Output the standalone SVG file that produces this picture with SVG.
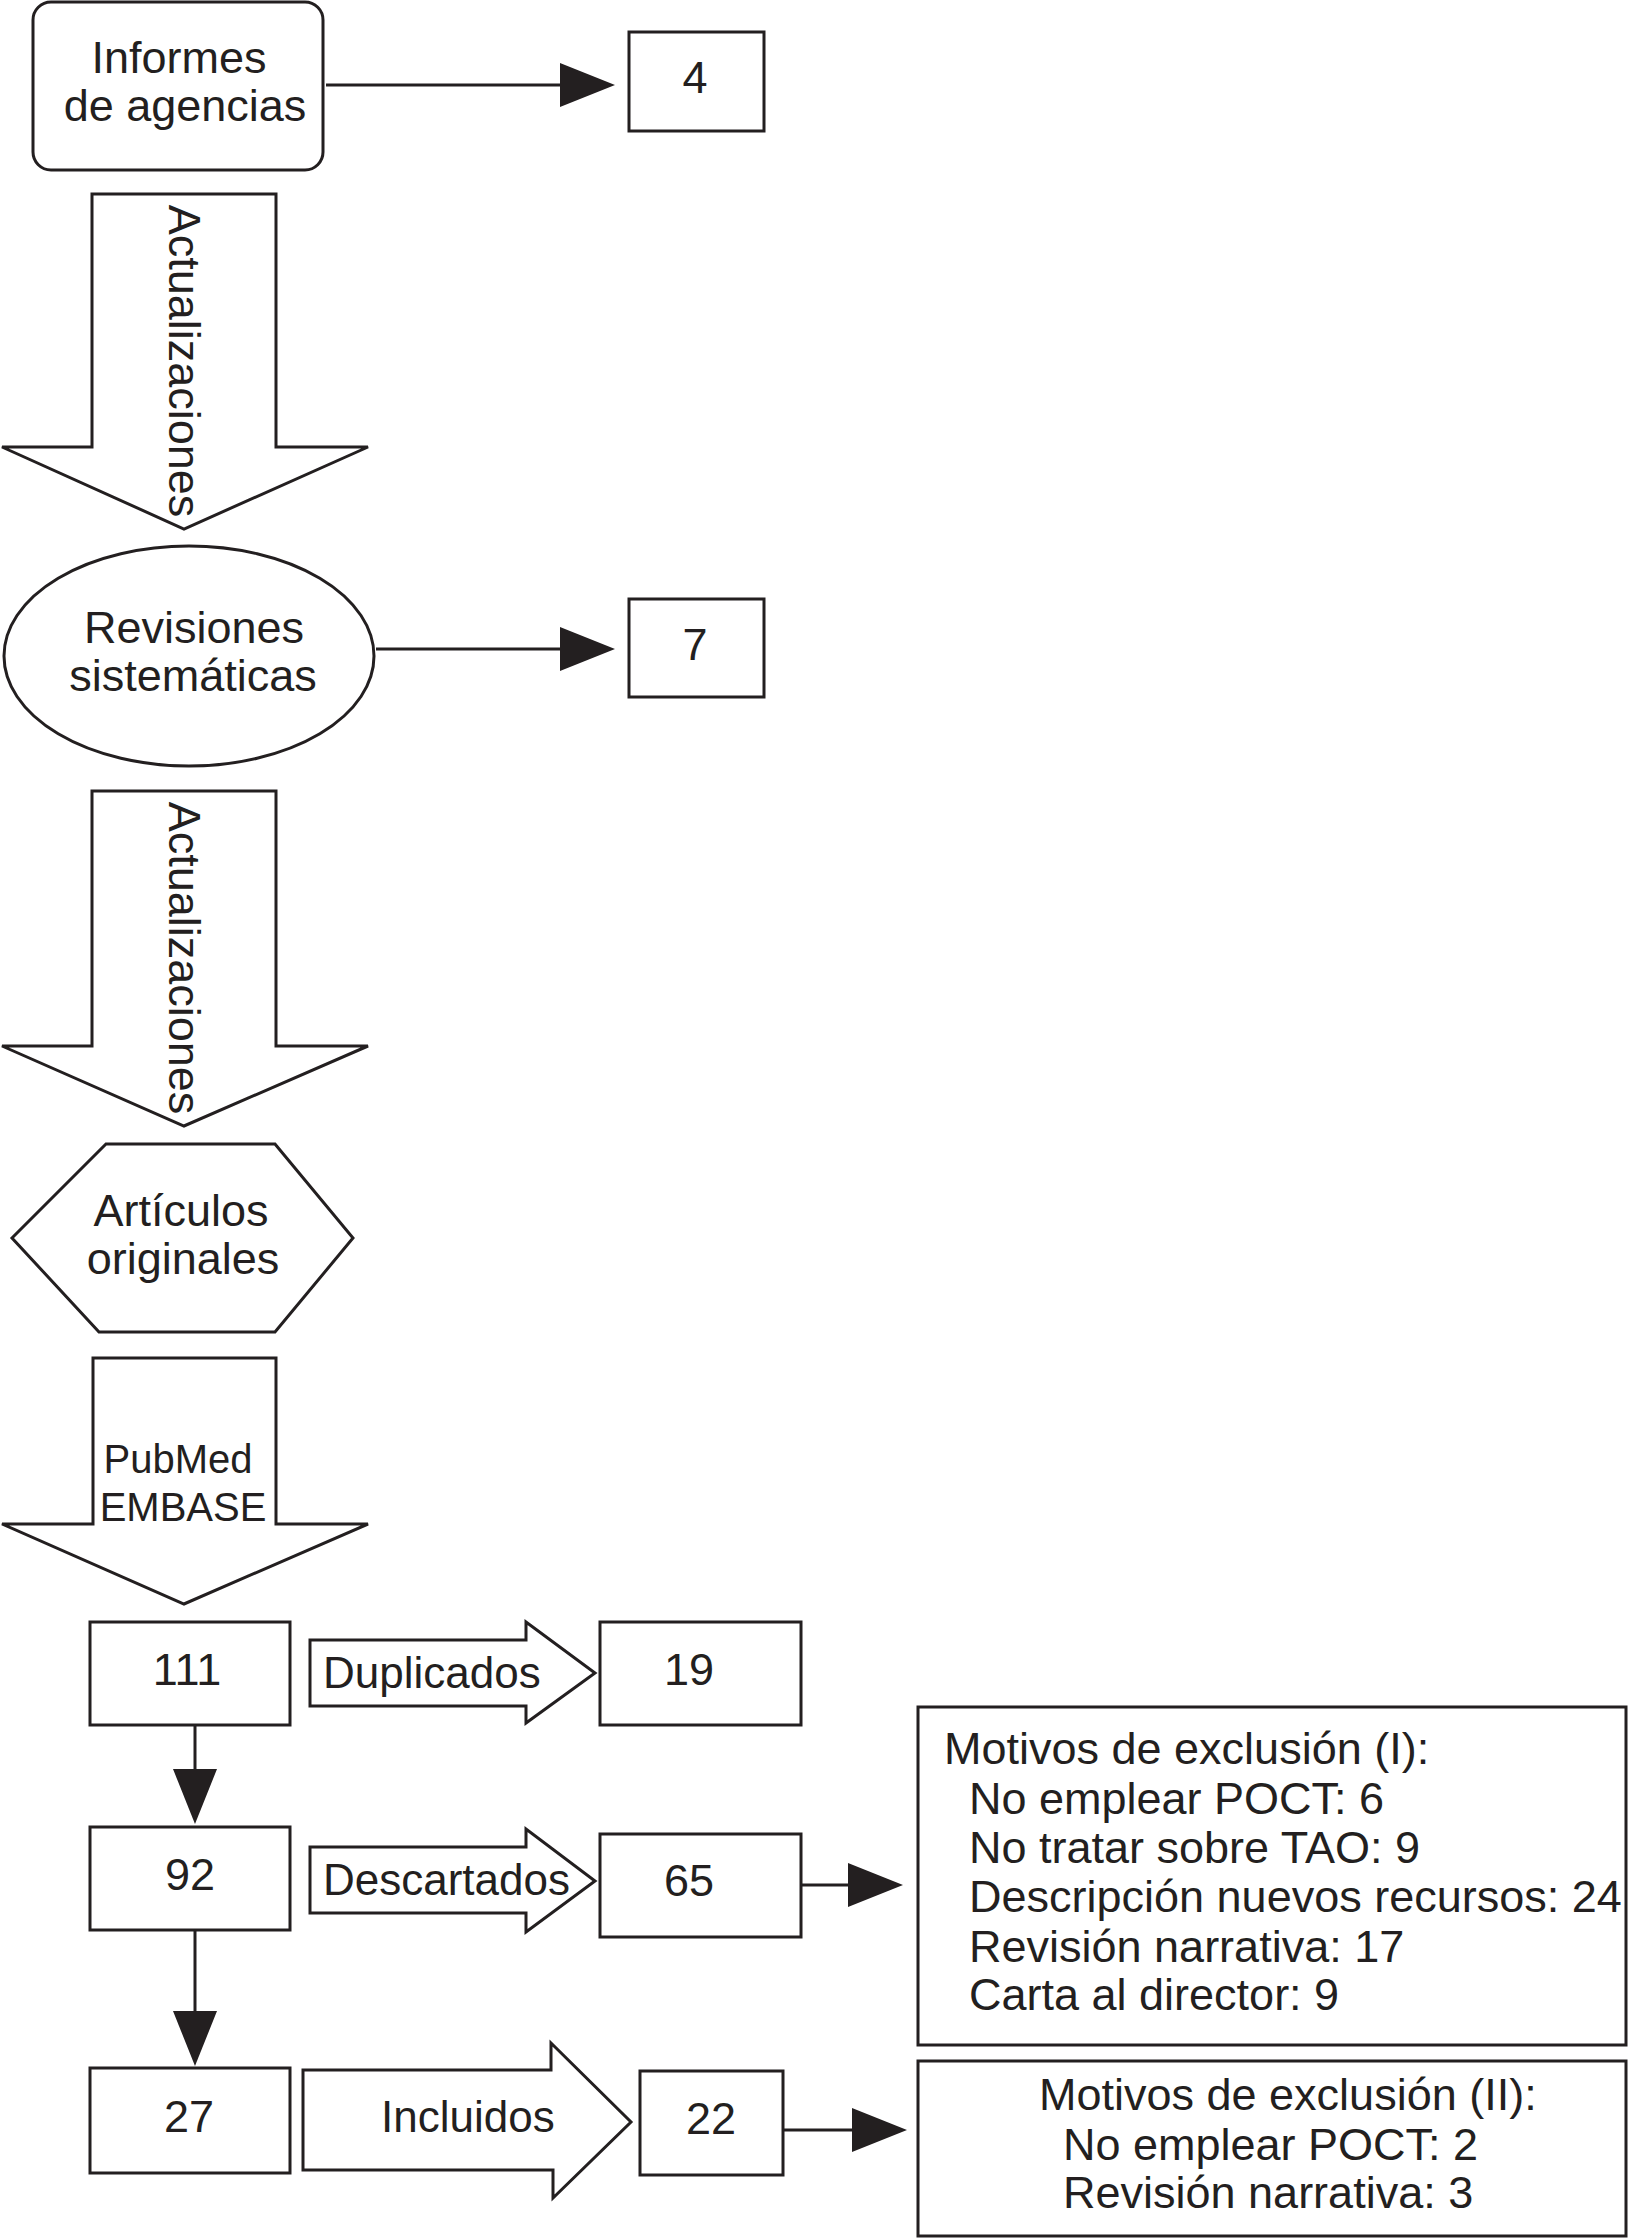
<svg xmlns="http://www.w3.org/2000/svg" width="1628" height="2239" viewBox="0 0 1628 2239">
<style>
.s{fill:#fff;stroke:#231f20;stroke-width:3}
.c{fill:none;stroke:#231f20;stroke-width:3}
text{font-family:"Liberation Sans",Arial,sans-serif;font-size:45px;fill:#231f20}
.m{text-anchor:middle}
.l{font-size:44px}
.p{font-size:40px}
</style>
<defs>
<marker id="ah" markerUnits="userSpaceOnUse" viewBox="0 0 55 44" markerWidth="55" markerHeight="44" refX="45" refY="22" orient="auto">
<path d="M0,0 L55,22 L0,44 Z" fill="#231f20"/>
</marker>
</defs>
<rect width="1628" height="2239" fill="#fff"/>
<g id="connectors">
<line class="c" x1="326" y1="85" x2="605" y2="85" marker-end="url(#ah)"/>
<line class="c" x1="376" y1="649" x2="605" y2="649" marker-end="url(#ah)"/>
<line class="c" x1="195" y1="1725" x2="195" y2="1814" marker-end="url(#ah)"/>
<line class="c" x1="195" y1="1930" x2="195" y2="2056" marker-end="url(#ah)"/>
<line class="c" x1="801" y1="1885" x2="893" y2="1885" marker-end="url(#ah)"/>
<line class="c" x1="783" y1="2130" x2="897" y2="2130" marker-end="url(#ah)"/>
</g>
<g id="informes">
<rect class="s" x="33" y="2" width="290" height="168" rx="18"/>
<text class="m" x="179" y="73">Informes</text>
<text class="m" x="185" y="121">de agencias</text>
</g>
<g id="n4">
<rect class="s" x="629" y="32" width="135" height="99"/>
<text class="m" x="695" y="93">4</text>
</g>
<g id="arrow1">
<polygon class="s" points="92,194 276,194 276,447 368,447 184,529 2,447 92,447"/>
<text transform="translate(169,361) rotate(90)" class="m">Actualizaciones</text>
</g>
<g id="revisiones">
<ellipse class="s" cx="189" cy="656" rx="185" ry="110"/>
<text class="m" x="194" y="643">Revisiones</text>
<text class="m" x="193" y="691">sistemáticas</text>
</g>
<g id="n7">
<rect class="s" x="629" y="599" width="135" height="98"/>
<text class="m" x="695" y="660">7</text>
</g>
<g id="arrow2">
<polygon class="s" points="92,791 276,791 276,1046 368,1046 184,1126 2,1046 92,1046"/>
<text transform="translate(169,958) rotate(90)" class="m">Actualizaciones</text>
</g>
<g id="articulos">
<polygon class="s" points="106,1144 275,1144 353,1238 275,1332 99,1332 12,1238"/>
<text class="m" x="181" y="1226">Artículos</text>
<text class="m" x="183" y="1274">originales</text>
</g>
<g id="arrow3">
<polygon class="s" points="93,1358 276,1358 276,1524 368,1524 184,1604 2,1524 93,1524"/>
<text class="m p" x="178" y="1473">PubMed</text>
<text class="m p" x="183" y="1521">EMBASE</text>
</g>
<g id="n111">
<rect class="s" x="90" y="1622" width="200" height="103"/>
<text class="m" x="187" y="1685">111</text>
</g>
<g id="duplicados">
<polygon class="s" points="310,1640 526,1640 526,1622 595,1673 526,1723 526,1706 310,1706"/>
<text class="l" x="323" y="1688">Duplicados</text>
</g>
<g id="n19">
<rect class="s" x="600" y="1622" width="201" height="103"/>
<text class="m" x="689" y="1685">19</text>
</g>
<g id="n92">
<rect class="s" x="90" y="1827" width="200" height="103"/>
<text class="m" x="190" y="1890">92</text>
</g>
<g id="descartados">
<polygon class="s" points="310,1847 526,1847 526,1829 595,1881 526,1932 526,1913 310,1913"/>
<text class="l" x="323" y="1895">Descartados</text>
</g>
<g id="n65">
<rect class="s" x="600" y="1834" width="201" height="103"/>
<text class="m" x="689" y="1896">65</text>
</g>
<g id="n27">
<rect class="s" x="90" y="2068" width="200" height="105"/>
<text class="m" x="189" y="2132">27</text>
</g>
<g id="incluidos">
<polygon class="s" points="303,2070 551,2070 551,2043 631,2122 553,2198 553,2170 303,2170"/>
<text class="l" x="381" y="2132">Incluidos</text>
</g>
<g id="n22">
<rect class="s" x="640" y="2071" width="143" height="104"/>
<text class="m" x="711" y="2134">22</text>
</g>
<g id="exclusion1">
<rect class="s" x="918" y="1707" width="708" height="338"/>
<text x="944" y="1764">Motivos de exclusión (I):</text>
<text x="969" y="1814">No emplear POCT: 6</text>
<text x="969" y="1863">No tratar sobre TAO: 9</text>
<text x="969" y="1912">Descripción nuevos recursos: 24</text>
<text x="969" y="1962">Revisión narrativa: 17</text>
<text x="969" y="2010">Carta al director: 9</text>
</g>
<g id="exclusion2">
<rect class="s" x="918" y="2061" width="708" height="175"/>
<text x="1039" y="2110">Motivos de exclusión (II):</text>
<text x="1063" y="2160">No emplear POCT: 2</text>
<text x="1063" y="2208">Revisión narrativa: 3</text>
</g>
</svg>
